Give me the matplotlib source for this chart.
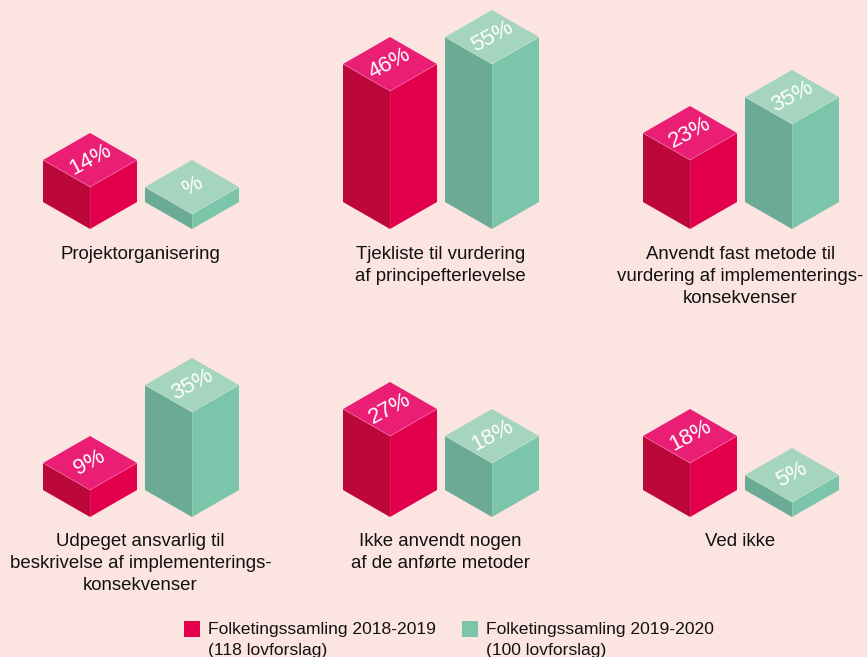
import matplotlib
matplotlib.use('Agg')
import matplotlib.pyplot as plt
from matplotlib.patches import Polygon, Rectangle

plt.rcParams['font.family'] = ['Liberation Sans', 'DejaVu Sans']

categories = [
    'Projektorganisering',
    'Tjekliste til vurdering\naf principefterlevelse',
    'Anvendt fast metode til\nvurdering af implementerings-\nkonsekvenser',
    'Udpeget ansvarlig til\nbeskrivelse af implementerings-\nkonsekvenser',
    'Ikke anvendt nogen\naf de anførte metoder',
    'Ved ikke',
]
values_1819 = [14, 46, 23, 9, 27, 18]
values_1920 = [5, 55, 35, 35, 18, 5]
labels_1819 = ['14%', '46%', '23%', '9%', '27%', '18%']
labels_1920 = ['%', '55%', '35%', '35%', '18%', '5%']
legend_labels = ['Folketingssamling 2018-2019\n(118 lovforslag)',
                 'Folketingssamling 2019-2020\n(100 lovforslag)']

# venstre, hoejre, top
reds = ['#BC073B', '#E2004C', '#E91E74']
greens = ['#6BAB95', '#7BC6AB', '#A5D4BF']
bg = '#FCE5E1'

HW = 47       # halv bredde af kassen
HD = 27       # halv dybde
PX_PCT = 3    # pixel pr. procentpoint
GROUP_X = [43, 343, 643]
BASE_Y = [202, 490]
LABEL_Y = [254.5, 541.5]


def draw_bar(ax, x, base, value, label, cols):
    y = base - value * PX_PCT
    ax.add_patch(Polygon([(x, y), (x + HW, y + HD), (x + HW, base + HD), (x, base)], fc=cols[0], ec='none'))
    ax.add_patch(Polygon([(x + HW, y + HD), (x + 2 * HW, y), (x + 2 * HW, base), (x + HW, base + HD)], fc=cols[1], ec='none'))
    ax.add_patch(Polygon([(x, y), (x + HW, y - HD), (x + 2 * HW, y), (x + HW, y + HD)], fc=cols[2], ec='none'))
    # lys kant langs forkanten af toppen
    ax.plot([x, x + HW, x + 2 * HW], [y, y + HD, y], color='white', alpha=0.25, lw=0.6)
    ax.plot([x + HW, x + HW], [y + HD, base + HD], color='white', alpha=0.15, lw=0.5)
    ax.text(x + HW, y, label, color='white', fontsize=16, rotation=28, rotation_mode='anchor',
            ha='center', va='center')


fig = plt.figure(figsize=(8.67, 6.57), dpi=100, facecolor=bg)
ax = fig.add_axes([0, 0, 1, 1])
ax.set_xlim(0, 867)
ax.set_ylim(657, 0)
ax.axis('off')

for i in range(len(categories)):
    col = i % 3
    row = i // 3
    x = GROUP_X[col]
    draw_bar(ax, x, BASE_Y[row], values_1819[i], labels_1819[i], reds)
    draw_bar(ax, x + 102, BASE_Y[row], values_1920[i], labels_1920[i], greens)
    for j, line in enumerate(categories[i].split('\n')):
        ax.text(x + 97.5, LABEL_Y[row] + j * 22, line, fontsize=13.4, color='#111111', ha='center', va='center')

# legende
for x, c, txt in zip([184, 462], [reds[1], greens[1]], legend_labels):
    ax.add_patch(Rectangle((x, 621), 16, 16, fc=c, ec='none'))
    for j, line in enumerate(txt.split('\n')):
        ax.text(x + 24, 629.5 + j * 21, line, fontsize=12.6, color='#111111', ha='left', va='center')

fig.savefig('out.png', dpi=100, facecolor=bg)
